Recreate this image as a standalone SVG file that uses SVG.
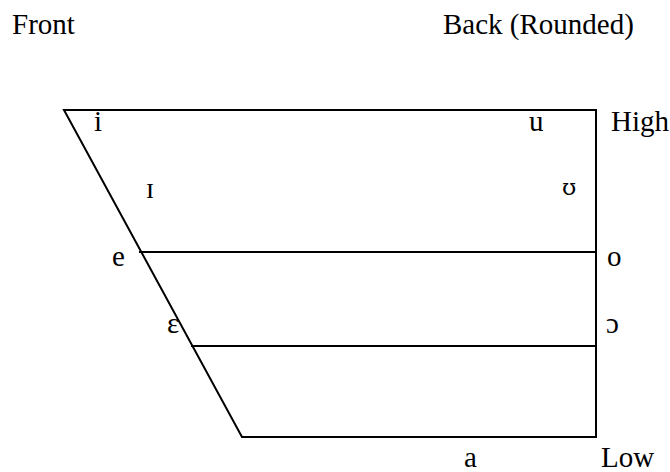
<svg xmlns="http://www.w3.org/2000/svg" width="670" height="472" viewBox="0 0 670 472">
<style>
text{font-family:"Liberation Serif","DejaVu Serif",serif;font-size:29px;fill:#000}
.alt{font-family:"DejaVu Serif",serif;font-size:23px}
.ln{stroke:#000;stroke-width:2;fill:none;stroke-linecap:square}
</style>
<rect width="670" height="472" fill="#fff"/>
<g id="chart">
<path class="ln" d="M64,110 L596,110 L596,437 L242,437 Z"/>
<line class="ln" x1="140" y1="252" x2="596" y2="252"/>
<line class="ln" x1="192" y1="346" x2="596" y2="346"/>
</g>
<g id="labels">
<text x="12" y="34">Front</text>
<text x="443" y="34">Back (Rounded)</text>
<text x="611" y="131">High</text>
<text x="601" y="467">Low</text>
</g>
<g id="vowels">
<text x="94" y="131">i</text>
<text x="146" y="198">ɪ</text>
<text x="529" y="131">u</text>
<text class="alt" x="562" y="195">ʊ</text>
<text x="112" y="266">e</text>
<text x="607" y="266">o</text>
<text x="167" y="333">ɛ</text>
<text x="606" y="333">ɔ</text>
<text x="464" y="467">a</text>
</g>
</svg>
